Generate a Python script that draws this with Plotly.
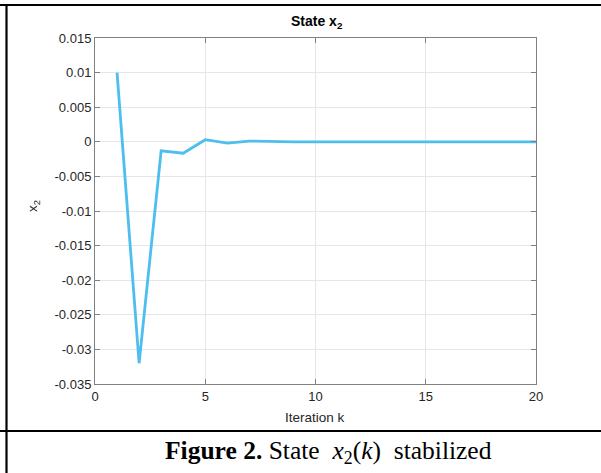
import plotly.graph_objects as go

k_vals = list(range(1, 21))
x2_vals = [0.01, -0.032, -0.0013, -0.00165, 0.0003, -0.0002, 0.0001, 0.0,
           0.0, 0.0, 0.0, 0.0, 0.0, 0.0, 0.0, 0.0, 0.0, 0.0, 0.0, 0.0]
x_ticks = [0, 5, 10, 15, 20]
y_ticks = [0.015, 0.01, 0.005, 0, -0.005, -0.01, -0.015, -0.02, -0.025, -0.03, -0.035]
y_tick_text = ["0.015", "0.01", "0.005", "0", "-0.005", "-0.01", "-0.015", "-0.02", "-0.025", "-0.03", "-0.035"]

W, H = 601, 473
L, R, T, B = 95, 536, 38, 384
pw, ph = R - L, B - T

def px(xp):
    return (xp - L) / pw

def py(yp):
    return (B - yp) / ph

FONT = "Liberation Sans, Arial"

fig = go.Figure()
fig.add_trace(go.Scatter(x=k_vals, y=x2_vals, mode="lines",
                         line=dict(color="#4DBEEE", width=2.8), showlegend=False))

axis_common = dict(showgrid=True, gridcolor="#e6e6e6", gridwidth=1,
                   showline=True, linecolor="#808080", linewidth=1, mirror="allticks",
                   ticks="inside", ticklen=5, tickcolor="#808080", zeroline=False,
                   tickfont=dict(family=FONT, size=13, color="#262626"))

fig.update_xaxes(range=[0, 20], tickvals=x_ticks, **axis_common)
fig.update_yaxes(range=[-0.035, 0.015], tickvals=y_ticks, ticktext=y_tick_text, **axis_common)

shapes = []
lc = dict(color="black", width=2.2)
shapes.append(dict(type="line", xref="paper", yref="paper", x0=px(0), x1=px(601), y0=py(5), y1=py(5), line=lc))
shapes.append(dict(type="line", xref="paper", yref="paper", x0=px(6.5), x1=px(6.5), y0=py(4), y1=py(473), line=lc))
shapes.append(dict(type="line", xref="paper", yref="paper", x0=px(0), x1=px(601), y0=py(431), y1=py(431), line=lc))
fig.update_layout(shapes=shapes)

fig.add_annotation(xref="paper", yref="paper", x=px(317), y=py(22), xanchor="center", yanchor="middle",
                   text="<b>State x<sub>2</sub></b>", showarrow=False,
                   font=dict(family=FONT, size=14, color="black"))
fig.add_annotation(xref="paper", yref="paper", x=px(315), y=py(417), xanchor="center", yanchor="middle",
                   text="Iteration k", showarrow=False,
                   font=dict(family=FONT, size=13.5, color="#262626"))
fig.add_annotation(xref="paper", yref="paper", x=px(33), y=py(206), xanchor="center", yanchor="middle",
                   text="x<sub>2</sub>", showarrow=False, textangle=-90,
                   font=dict(family=FONT, size=13.5, color="#262626"))
fig.add_annotation(xref="paper", yref="paper", x=px(328), y=py(452), xanchor="center", yanchor="middle",
                   text="<b>Figure 2.</b> State  <i>x</i><sub>2</sub>(<i>k</i>)  stabilized", showarrow=False,
                   font=dict(family="Liberation Serif, Times New Roman", size=25.5, color="black"))

fig.update_layout(width=W, height=H, margin=dict(l=L, r=W - R, t=T, b=H - B),
                  plot_bgcolor="white", paper_bgcolor="white")
fig.write_html("out.html", config={"displayModeBar": False},
               post_script="document.body.style.margin='0';document.body.style.overflow='hidden';")
